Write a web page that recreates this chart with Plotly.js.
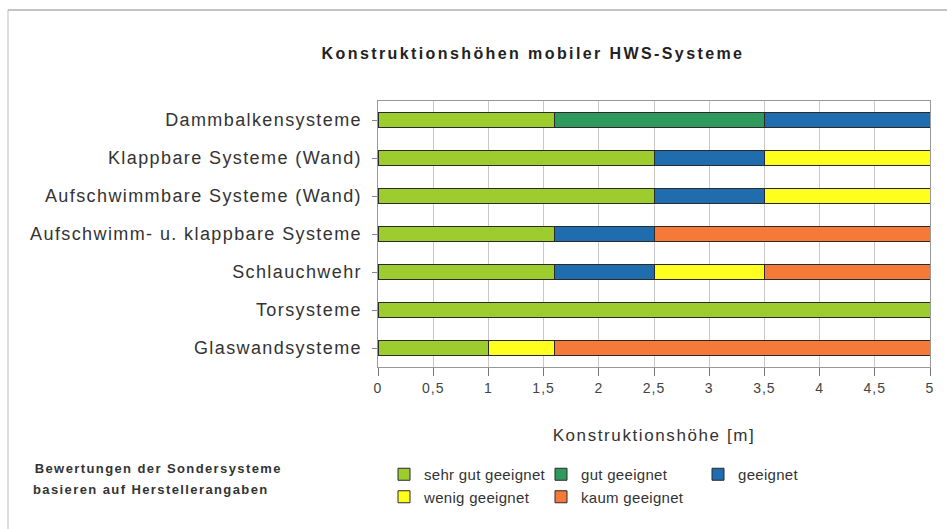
<!DOCTYPE html>
<html>
<head>
<meta charset="utf-8">
<script src="https://cdn.plot.ly/plotly-3.0.1.min.js"></script>
<style>
html,body{margin:0;padding:0;background:#fff;}
#chart{width:947px;height:529px;}
#chart .gtitle{letter-spacing:2.4px;}
#chart .ytick text{letter-spacing:1.4px;}
#chart .xtick text{letter-spacing:1px;}
#chart .g-xtitle text{letter-spacing:1.6px;}
#chart .legendtext{letter-spacing:0.3px;}
#chart .annotation-text{letter-spacing:1.4px;}
</style>
</head>
<body>
<div id="chart"></div>
<script>
// Categories (top to bottom)
const categories = [
  "Dammbalkensysteme",
  "Klappbare Systeme (Wand)",
  "Aufschwimmbare Systeme (Wand)",
  "Aufschwimm- u. klappbare Systeme",
  "Schlauchwehr",
  "Torsysteme",
  "Glaswandsysteme"
];
// Segment lengths in m per rating
const sehrGut = [1.6, 2.5, 2.5, 1.6, 1.6, 5.0, 1.0];
const gut     = [1.9, 0,   0,   0,   0,   0,   0  ];
const geeignet= [1.5, 1.0, 1.0, 0.9, 0.9, 0,   0  ];
const wenig   = [0,   1.5, 1.5, 0,   1.0, 0,   0.6];
const kaum    = [0,   0,   0,   2.5, 1.5, 0,   3.4];

const seriesNames = ["sehr gut geeignet","gut geeignet","geeignet","wenig geeignet","kaum geeignet"];
const seriesData = [sehrGut, gut, geeignet, wenig, kaum];
const seriesColors = ["#9dcc2e","#2f9a5c","#1f6cae","#ffff1e","#f57a3a"];
const xTicks = [0,0.5,1,1.5,2,2.5,3,3.5,4,4.5,5];
const xTickText = ["0","0,5","1","1,5","2","2,5","3","3,5","4","4,5","5"];

const traces = seriesNames.map((n,i)=>({
  type:'bar', orientation:'h', name:n,
  y: categories, x: seriesData[i],
  marker:{color:seriesColors[i], line:{color:'#2a2a2a', width:1}},
  width:0.42, hoverinfo:'x+name'
}));

// plot area in px: left 378, right 930, top 101, bottom 367
const L=378, R=930, T=101, B=367, W=947, H=529;
const px = v => (v-L)/(R-L);
const py = v => (B-v)/(B-T);

const layout = {
  width:W, height:H,
  margin:{l:L, r:W-R, t:T, b:H-B, pad:0, autoexpand:false},
  barmode:'stack',
  showlegend:true,
  paper_bgcolor:'#ffffff',
  plot_bgcolor:'#ffffff',
  font:{family:'"Liberation Sans", Arial, sans-serif', color:'#333'},
  title:{text:'Konstruktionshöhen mobiler HWS-Systeme', x:533/W, xanchor:'center', y:1-53/H, yanchor:'middle',
         font:{size:16, color:'#222', weight:600}},
  xaxis:{range:[0,5], tickvals:xTicks, ticktext:xTickText, showgrid:true, gridcolor:'#c8c8c8', gridwidth:1,
         zeroline:false, showline:true, linecolor:'#999', mirror:true, ticks:'outside', ticklen:8, tickcolor:'#777',
         tickfont:{size:14, color:'#444'},
         title:{text:'Konstruktionshöhe [m]', font:{size:17, color:'#333'}, standoff:34}},
  yaxis:{categoryorder:'array', categoryarray:categories, autorange:'reversed',
         type:'category', showgrid:false, showline:true, linecolor:'#999', mirror:true,
         ticks:'outside', ticklen:5, tickcolor:'#888',
         tickfont:{size:18, color:'#333'}, ticksuffix:' '},
  legend:{orientation:'h', x:px(384), xanchor:'left', y:py(458), yanchor:'top',
          entrywidth:112, entrywidthmode:'pixels', traceorder:'normal',
          font:{size:15, color:'#333'}, itemwidth:30, bgcolor:'rgba(0,0,0,0)', tracegroupgap:0},
  annotations:[
    {xref:'paper', yref:'paper', x:px(158), y:py(468), xanchor:'center', yanchor:'middle', showarrow:false,
     text:'<b>Bewertungen der Sondersysteme</b>', font:{size:13, color:'#333'}},
    {xref:'paper', yref:'paper', x:px(151), y:py(489), xanchor:'center', yanchor:'middle', showarrow:false,
     text:'<b>basieren auf Herstellerangaben</b>', font:{size:13, color:'#333'}}
  ],
  shapes:[
    {type:'line', xref:'paper', yref:'paper', x0:px(8), x1:px(947), y0:py(10), y1:py(10), line:{color:'#888', width:1}},
    {type:'line', xref:'paper', yref:'paper', x0:px(8), x1:px(8), y0:py(10), y1:py(529), line:{color:'#bbb', width:1}}
  ]
};

Plotly.newPlot('chart', traces, layout, {displayModeBar:false, staticPlot:true});
</script>
</body>
</html>
